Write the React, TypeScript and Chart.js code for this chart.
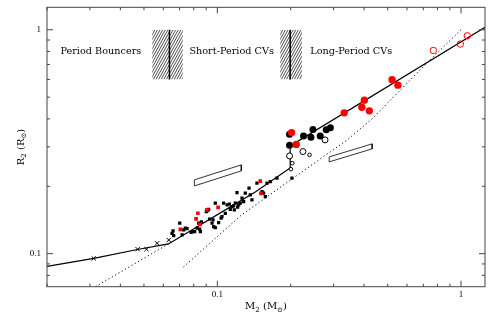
import React, { useEffect, useRef } from "react";
import { Chart, registerables } from "chart.js";
Chart.register(...registerables);

// ---- axes ----
const xRange = [0.02, 1.254];
const yRange = [0.0712, 1.26];
const xMajor = [0.1, 1];
const xMinor = [0.02, 0.03, 0.04, 0.05, 0.06, 0.07, 0.08, 0.09, 0.2, 0.3, 0.4, 0.5, 0.6, 0.7, 0.8, 0.9];
const yMajor = [0.1, 1];
const yMinor = [0.08, 0.09, 0.2, 0.3, 0.4, 0.5, 0.6, 0.7, 0.8, 0.9];
const xTickLabels = ["0.1", "1"];
const yTickLabels = ["0.1", "1"];

// ---- annotations ----
const annTexts = ["Period Bouncers", "Short-Period CVs", "Long-Period CVs"];
const annM = [0.0227, 0.0768, 0.2405];
const annR = 0.8;
const gapBouncerM = [0.0541, 0.0721];
const gapBouncerMid = 0.0636;
const gapPeriodM = [0.1812, 0.2224];
const gapPeriodMid = 0.199;
const gapR = [0.6, 1.0];

// ---- model tracks ----
const trackM = [0.02, 0.0311, 0.047, 0.063, 0.0726, 0.1131, 0.1431, 0.199, 0.199, 1.254];
const trackR = [0.0877, 0.0952, 0.1044, 0.1105, 0.1212, 0.1618, 0.1887, 0.2416, 0.3029, 1.026];
const preBounceM = [0.0316, 0.063];
const preBounceR = [0.0712, 0.1105];
const msM = [0.0726, 0.1242, 0.2, 0.341, 0.4317, 0.6988, 1.0];
const msR = [0.0872, 0.1474, 0.2136, 0.3222, 0.4, 0.6833, 1.0];

// ---- error-direction boxes ----
const boxAM = [0.0805, 0.1254, 0.1254, 0.0805, 0.0805];
const boxAR = [0.2136, 0.2492, 0.2343, 0.2007, 0.2136];
const boxBM = [0.2877, 0.4317, 0.4317, 0.2877, 0.2877];
const boxBR = [0.2705, 0.3093, 0.2938, 0.257, 0.2705];

// ---- observations ----
const blackSqM = [0.0652,0.0662,0.0658,0.0701,0.0728,0.0739,0.0751,0.0780,0.0792,0.0826,0.0838,0.0860,0.0846,0.0852,0.0901,0.0921,0.0951,0.0960,0.0981,0.1012,0.1036,0.1045,0.1061,0.1078,0.1096,0.1120,0.1130,0.1149,0.1166,0.1185,0.1174,0.1204,0.1211,0.1223,0.1242,0.1262,0.1282,0.1302,0.1349,0.1365,0.1387,0.1454,0.1525,0.1548,0.1573,0.1599,0.1649,0.1756,0.2023,0.0981,0.0717,0.0807,0.0930,0.0966,0.0913];
const blackSqR = [0.1233,0.1203,0.1263,0.1368,0.1276,0.1299,0.1294,0.1246,0.1254,0.1299,0.1368,0.1386,0.1286,0.1254,0.1541,0.1579,0.1368,0.1415,0.1680,0.1376,0.1440,0.1463,0.1680,0.1515,0.1651,0.1663,0.1579,0.1622,0.1634,0.1680,0.1568,0.1873,0.1612,0.1651,0.1680,0.1769,0.1708,0.1862,0.1960,0.1830,0.1738,0.2064,0.1893,0.1862,0.1798,0.2064,0.2098,0.2173,0.2173,0.1307,0.1212,0.1254,0.1425,0.1320,0.1556];
const redSqM = [0.0705, 0.0818, 0.0832, 0.0848, 0.0906, 0.1007, 0.1500, 0.1510];
const redSqR = [0.1283, 0.1429, 0.1515, 0.1351, 0.1568, 0.1609, 0.2107, 0.1858];
const crossM = [0.0311, 0.0471, 0.0512, 0.0566, 0.0632];
const crossR = [0.0952, 0.1047, 0.1047, 0.1113, 0.1151];
const bigBlackM = [0.1978, 0.1978, 0.2258, 0.2421, 0.2467, 0.2643, 0.2797, 0.2910];
const bigBlackR = [0.3419, 0.3052, 0.3358, 0.3313, 0.3590, 0.3358, 0.3573, 0.3655];
const bigRedM = [0.2016, 0.2107, 0.3315, 0.3917, 0.4011, 0.4205, 0.5214, 0.5508];
const bigRedR = [0.3474, 0.3077, 0.4256, 0.4511, 0.4850, 0.4344, 0.5977, 0.5658];
const openBlackM = [0.1978, 0.2245, 0.2766];
const openBlackR = [0.2733, 0.2858, 0.3222];
const openSmallM = [0.2389, 0.2030, 0.2004];
const openSmallR = [0.2762, 0.2536, 0.2384];
const openRedM = [0.7700, 0.9934, 1.0612];
const openRedR = [0.8082, 0.8632, 0.9401];

const pts = (ms: number[], rs: number[]) => ms.map((m, i) => ({ x: m, y: rs[i] }));

const SERIF = "'DejaVu Serif', 'Liberation Serif', serif";

function drawHatch(ctx: CanvasRenderingContext2D, x0: number, x1: number, yt: number, yb: number) {
  ctx.save();
  ctx.beginPath();
  ctx.rect(x0, yt, x1 - x0, yb - yt);
  ctx.clip();
  ctx.strokeStyle = "#222";
  ctx.lineWidth = 0.8;
  const h = yb - yt;
  const dx = h / 1.8;
  ctx.beginPath();
  for (let s = x0 - dx; s < x1 + 1; s += 2.6) {
    ctx.moveTo(s, yb);
    ctx.lineTo(s + dx, yt);
  }
  ctx.stroke();
  ctx.restore();
}

type Part = { t: string; sub?: boolean };
function drawParts(ctx: CanvasRenderingContext2D, parts: Part[], cx: number, cy: number) {
  const big = `10px ${SERIF}`;
  const small = `7px ${SERIF}`;
  let w = 0;
  parts.forEach((p) => {
    ctx.font = p.sub ? small : big;
    w += ctx.measureText(p.t).width;
  });
  let x = cx - w / 2;
  ctx.textBaseline = "alphabetic";
  ctx.textAlign = "left";
  parts.forEach((p) => {
    ctx.font = p.sub ? small : big;
    ctx.fillText(p.t, x, cy + (p.sub ? 6 : 3.5));
    x += ctx.measureText(p.t).width;
  });
}

const decor = {
  id: "decor",
  beforeDatasetsDraw(chart: any) {
    const { ctx, scales } = chart;
    const xs = scales.x, ys = scales.y;
    const yt = ys.getPixelForValue(gapR[1]);
    const yb = ys.getPixelForValue(gapR[0]);
    [gapBouncerM, gapPeriodM].forEach((g) => {
      drawHatch(ctx, xs.getPixelForValue(g[0]), xs.getPixelForValue(g[1]), yt, yb);
    });
    ctx.save();
    ctx.fillStyle = "#000";
    ctx.font = `9.7px ${SERIF}`;
    ctx.textAlign = "left";
    ctx.textBaseline = "middle";
    annTexts.forEach((t, i) => {
      ctx.fillText(t, xs.getPixelForValue(annM[i]), ys.getPixelForValue(annR));
    });
    ctx.restore();
  },
  afterDraw(chart: any) {
    const { ctx, chartArea: a, scales } = chart;
    const xs = scales.x, ys = scales.y;
    ctx.save();
    ctx.strokeStyle = "#444";
    ctx.lineWidth = 1;
    ctx.strokeRect(a.left, a.top, a.right - a.left, a.bottom - a.top);
    ctx.beginPath();
    const xt = (v: number, len: number) => {
      const p = xs.getPixelForValue(v);
      ctx.moveTo(p, a.bottom); ctx.lineTo(p, a.bottom - len);
      ctx.moveTo(p, a.top); ctx.lineTo(p, a.top + len);
    };
    const yt = (v: number, len: number) => {
      const p = ys.getPixelForValue(v);
      ctx.moveTo(a.left, p); ctx.lineTo(a.left + len, p);
      ctx.moveTo(a.right, p); ctx.lineTo(a.right - len, p);
    };
    xMajor.forEach((v) => xt(v, 6));
    xMinor.forEach((v) => xt(v, 3));
    yMajor.forEach((v) => yt(v, 6));
    yMinor.forEach((v) => yt(v, 3));
    ctx.stroke();

    ctx.fillStyle = "#000";
    ctx.font = `9px 'Liberation Serif', serif`;
    ctx.textBaseline = "middle";
    ctx.textAlign = "center";
    xMajor.forEach((v, i) => ctx.fillText(xTickLabels[i], xs.getPixelForValue(v), a.bottom + 8));
    ctx.textAlign = "right";
    yMajor.forEach((v, i) => ctx.fillText(yTickLabels[i], a.left - 6, ys.getPixelForValue(v)));

    drawParts(ctx, [{ t: "M" }, { t: "2", sub: true }, { t: " (M" }, { t: "\u2299", sub: true }, { t: ")" }], (a.left + a.right) / 2, a.bottom + 19);
    ctx.save();
    ctx.translate(21, (a.top + a.bottom) / 2);
    ctx.rotate(-Math.PI / 2);
    drawParts(ctx, [{ t: "R" }, { t: "2", sub: true }, { t: " (R" }, { t: "\u2299", sub: true }, { t: ")" }], 0, -1);
    ctx.restore();
    ctx.restore();
  },
};

export default function App() {
  const ref = useRef<HTMLCanvasElement>(null);
  useEffect(() => {
    const line = (data: any[], dash: number[] = [], width = 1.2, order = 50) => ({
      data, showLine: true, pointRadius: 0, borderColor: "#000", borderWidth: width,
      borderDash: dash, fill: false, tension: 0, order,
    });
    const chart = new Chart(ref.current!, {
      type: "scatter",
      data: {
        datasets: [
          line(pts(trackM, trackR), [], 1.2, 40),
          line(pts(preBounceM, preBounceR), [1.2, 2.6], 1, 45),
          line(pts(msM, msR), [1.2, 2.6], 1, 45),
          line(pts([gapBouncerMid, gapBouncerMid], gapR), [], 1.5, 45),
          line(pts([gapPeriodMid, gapPeriodMid], gapR), [], 1.5, 45),
          line(pts(boxAM, boxAR), [], 0.8, 45),
          line(pts(boxBM, boxBR), [], 0.8, 45),
          { data: pts(crossM, crossR), pointStyle: "crossRot", pointRadius: 3, borderColor: "#000", borderWidth: 1, order: 20 } as any,
          { data: pts(blackSqM, blackSqR), pointStyle: "rect", pointRadius: 2.3, backgroundColor: "#000", borderColor: "#000", borderWidth: 0, order: 20 } as any,
          { data: pts(redSqM, redSqR), pointStyle: "rect", pointRadius: 2.6, backgroundColor: "#ff0000", borderColor: "#ff0000", borderWidth: 0, order: 15 } as any,
          { data: pts(openBlackM, openBlackR), pointStyle: "circle", pointRadius: 3, backgroundColor: "#fff", borderColor: "#000", borderWidth: 1, order: 12 } as any,
          { data: pts(openSmallM, openSmallR), pointStyle: "circle", pointRadius: 1.8, backgroundColor: "#fff", borderColor: "#000", borderWidth: 1, order: 12 } as any,
          { data: pts(bigBlackM, bigBlackR), pointStyle: "circle", pointRadius: 3.5, backgroundColor: "#000", borderColor: "#000", borderWidth: 0, order: 10 } as any,
          { data: pts(bigRedM, bigRedR), pointStyle: "circle", pointRadius: 3.7, backgroundColor: "#ff0000", borderColor: "#ff0000", borderWidth: 0, order: 5 } as any,
          { data: pts(openRedM, openRedR), pointStyle: "circle", pointRadius: 3.2, backgroundColor: "rgba(0,0,0,0)", borderColor: "#ff0000", borderWidth: 1, order: 5 } as any,
        ],
      },
      options: {
        responsive: false,
        devicePixelRatio: 1,
        animation: false,
        events: [],
        layout: { padding: { left: 47, right: 15, top: 7.3, bottom: 35.3 } },
        plugins: { legend: { display: false }, tooltip: { enabled: false } },
        scales: {
          x: { type: "logarithmic", min: xRange[0], max: xRange[1], display: false },
          y: { type: "logarithmic", min: yRange[0], max: yRange[1], display: false },
        },
      },
      plugins: [decor],
    });
    return () => chart.destroy();
  }, []);
  return (
    <div style={{ position: "absolute", left: 0, top: 0, width: 500, height: 322, background: "#fff" }}>
      <canvas ref={ref} width={500} height={322} style={{ display: "block", width: 500, height: 322 }} />
    </div>
  );
}
